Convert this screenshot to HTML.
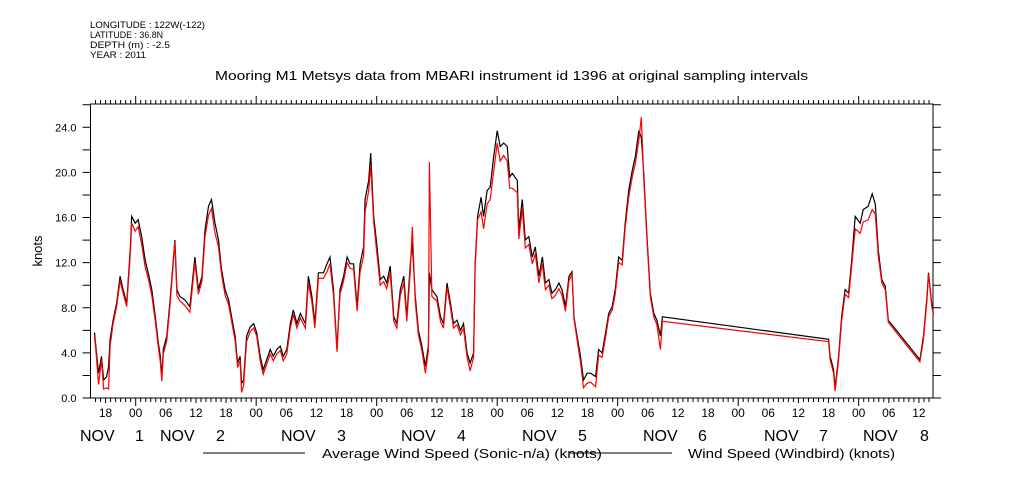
<!DOCTYPE html>
<html><head><meta charset="utf-8">
<style>
body{margin:0;background:#fff;}
svg{display:block;font-family:"Liberation Sans","DejaVu Sans",sans-serif;}
</style></head>
<body>
<svg id="chart" width="1009" height="504" viewBox="0 0 1009 504" xmlns="http://www.w3.org/2000/svg">
<g font-size="9.5" fill="#000">
<text x="90" y="28" textLength="115" lengthAdjust="spacingAndGlyphs">LONGITUDE : 122W(-122)</text>
<text x="90" y="38" textLength="73" lengthAdjust="spacingAndGlyphs">LATITUDE : 36.8N</text>
<text x="90" y="48" textLength="80" lengthAdjust="spacingAndGlyphs">DEPTH (m) : -2.5</text>
<text x="90" y="58" textLength="56" lengthAdjust="spacingAndGlyphs">YEAR : 2011</text>
</g>
<text x="215" y="80" font-size="13" textLength="593" lengthAdjust="spacingAndGlyphs">Mooring M1 Metsys data from MBARI instrument id 1396 at original sampling intervals</text>
<text x="42" y="251" font-size="13" text-anchor="middle" transform="rotate(-90 42 251)">knots</text>
<g id="axes"></g>
<g id="series"></g>
<g font-size="12.5">
<line x1="203" y1="453" x2="305" y2="453" stroke="#000"/>
<text x="322" y="458" textLength="280" lengthAdjust="spacingAndGlyphs">Average Wind Speed (Sonic-n/a) (knots)</text>
<line x1="570" y1="453" x2="672" y2="453" stroke="#000"/>
<text x="688" y="458" textLength="207" lengthAdjust="spacingAndGlyphs">Wind Speed (Windbird) (knots)</text>
</g>
</svg>
<script>
// hours relative to NOV 1 00:00
const hours = [-8.2,-7.8,-7.4,-6.8,-6.4,-5.8,-5.4,-5.1,-4.5,-3.8,-3.1,-2.5,-1.8,-1.1,-0.8,-0.1,0.5,1.2,1.9,2.5,3.2,3.9,4.5,4.9,5.2,5.5,6.2,6.8,7.8,8.2,8.8,9.8,10.8,11.8,12.5,13.2,13.8,14.5,15.1,15.8,16.5,17.1,17.8,18.5,19.1,19.8,20.3,20.8,21.1,21.5,22.1,22.8,23.5,24.1,24.8,25.4,26.1,26.8,27.4,28.1,28.8,29.4,30.1,30.8,31.4,32.1,32.8,33.8,34.4,35.1,35.7,36.4,37.4,38.1,38.7,39.4,40.1,40.7,41.4,42.1,42.7,43.4,44.1,44.7,45.4,45.7,46.4,46.8,47.4,48.0,48.7,49.4,50.0,50.7,51.4,52.0,52.7,53.4,54.0,54.7,55.1,55.7,56.3,57.0,57.7,58.3,58.5,59.0,60.0,60.7,61.3,62.0,62.7,63.3,64.0,64.7,65.3,66.0,66.6,67.3,67.6,68.1,68.8,69.3,70.0,70.6,71.3,72.0,72.6,73.3,74.0,74.5,75.0,76.0,76.3,77.0,77.6,78.3,79.0,79.6,80.3,81.0,81.6,82.3,82.9,83.6,84.3,84.9,85.6,86.3,86.9,87.3,87.9,88.6,89.2,89.9,90.6,91.6,92.2,92.9,93.6,94.2,94.9,95.5,96.2,96.9,97.5,98.2,98.9,99.5,100.2,100.7,101.2,101.8,102.5,103.2,103.8,104.5,104.9,138.0,138.3,139.0,139.3,140.0,140.6,141.3,142.0,142.6,143.3,144.3,144.9,145.9,146.7,147.3,147.9,148.6,149.3,149.9,156.2,156.9,157.6,157.9,158.6,158.9];
const avgSpeed = [5.8,4.0,2.2,3.7,1.6,1.9,2.8,5.2,6.9,8.4,10.8,9.6,8.4,13.1,16.1,15.5,15.8,14.3,12.2,11.1,9.6,7.2,4.9,3.7,1.9,4.3,5.5,8.4,14.0,9.6,9.0,8.7,8.1,12.5,9.6,10.8,14.9,17.0,17.6,15.5,14.0,11.4,9.6,8.7,7.2,5.5,3.1,3.7,1.3,1.6,5.5,6.3,6.6,5.8,3.7,2.5,3.4,4.3,3.7,4.3,4.6,3.7,4.3,6.6,7.8,6.6,7.5,6.6,10.8,9.0,6.6,11.1,11.1,11.9,12.5,9.6,4.3,9.6,10.8,12.5,11.9,11.9,8.1,11.9,13.4,17.6,19.3,21.7,16.1,13.7,10.5,10.8,10.2,11.7,7.2,6.6,9.6,10.8,7.2,11.9,13.7,9.0,6.0,4.6,2.8,4.6,11.1,9.6,9.0,7.2,6.6,10.2,8.4,6.6,6.9,6.0,6.6,4.0,3.1,4.0,11.9,16.1,17.8,16.1,18.4,18.7,21.4,23.7,22.3,22.6,22.3,19.6,19.9,19.3,14.9,17.6,14.0,14.3,12.5,13.4,10.8,12.5,10.2,10.5,9.3,9.6,10.2,9.6,8.1,10.8,11.2,7.2,5.5,3.7,1.6,2.2,2.2,1.9,4.3,4.0,5.8,7.5,8.1,9.6,12.5,12.2,15.5,18.4,20.2,21.4,23.7,23.1,19.9,14.6,9.3,7.5,6.9,5.5,7.2,5.2,3.7,2.5,0.9,3.7,7.2,9.6,9.3,12.2,16.1,15.5,16.7,17.0,18.1,17.2,13.1,10.5,9.9,6.9,3.4,5.5,9.0,11.1,8.1,7.5];
const windbird = [5.5,3.6,1.2,3.4,0.8,0.9,0.8,4.6,6.6,8.1,10.4,9.3,8.1,12.6,15.5,14.8,15.2,13.6,11.6,10.6,9.1,6.8,4.5,3.2,1.5,3.9,5.1,8.0,13.8,9.1,8.6,8.2,7.6,12.0,9.2,10.4,14.3,16.2,16.8,14.6,13.4,11.0,9.1,8.3,6.8,5.1,2.7,3.3,0.5,1.1,5.0,5.9,6.2,5.5,3.3,2.1,3.0,3.9,3.3,3.9,4.2,3.3,3.9,6.2,7.4,6.2,7.1,6.2,10.2,8.5,6.2,10.6,10.6,11.2,11.9,9.1,4.1,9.2,10.4,12.0,11.5,11.4,7.7,11.2,12.6,16.5,18.4,20.6,15.6,13.0,10.0,10.3,9.7,11.1,6.8,6.2,9.1,10.2,6.8,11.3,15.2,8.5,5.6,4.2,2.2,4.2,20.9,9.0,8.6,6.8,6.2,9.8,8.0,6.2,6.5,5.6,6.2,3.6,2.4,3.6,11.5,15.8,16.5,15.0,17.2,17.6,20.1,22.6,21.0,21.5,21.0,18.6,18.6,18.2,14.1,16.8,13.3,13.6,11.9,12.8,10.2,11.9,9.6,10.0,8.8,9.1,9.7,9.1,7.7,10.4,11.0,7.0,5.2,3.2,0.9,1.3,1.4,1.0,3.8,3.6,5.4,7.2,7.8,9.2,12.0,11.8,15.1,17.8,19.6,20.8,22.8,24.9,19.4,14.3,9.0,7.2,6.5,4.3,6.8,5.0,3.4,2.2,0.6,3.4,6.8,9.2,8.9,11.7,15.0,14.6,15.6,15.8,16.7,16.3,12.6,10.2,9.6,6.7,3.2,5.2,8.7,11.0,8.0,7.4];
const yTicks = [0,4,8,12,16,20,24];
const yTickLabels = ["0.0","4.0","8.0","12.0","16.0","20.0","24.0"];
const hourLabels = ["18","00","06","12"];
const dayLabels = [["NOV",80,"1",135],["NOV",160,"2",216],["NOV",281,"3",337],["NOV",401,"4",457],["NOV",522,"5",578],["NOV",643,"6",698],["NOV",764,"7",819],["NOV",863,"8",920]];

const L=90.5,R=933,T=104,B=398;
const H0=-9,H1=158.8,V0=0,V1=24;
function xs(h){return L+(h-H0)/(H1-H0)*(R-L);}
function ys(v){return B-(v-V0)/(V1-V0)*(B-127.3);}
const NS="http://www.w3.org/2000/svg";
function mk(tag,attrs,parent){const e=document.createElementNS(NS,tag);for(const k in attrs)e.setAttribute(k,attrs[k]);parent.appendChild(e);return e;}
const axes=document.getElementById('axes');
const frame=mk('rect',{x:L,y:T,width:R-L,height:B-T,fill:'none',stroke:'#000','stroke-width':1},axes);


let d='';
for(let v=0;v<=26;v+=2){const y=ys(v);if(y<T)continue;d+=`M${L-8} ${y}H${L}M${R} ${y}H${R+8}`;}
for(let h=-8;h<=158;h++){const x=xs(h);const major=((h%24)+24)%24===0;const six=((h%6)+6)%6===0;
 d+=`M${x} ${T}V${T-(major?8:4)}M${x} ${B}V${B+(major?8:(six?5:4))}`;}
const ticks=mk('path',{d:d,stroke:'#000','stroke-width':1,fill:'none'},axes);


yTicks.forEach((v,i)=>{const t=mk('text',{x:L-14,y:ys(v)+4,'font-size':11,'text-anchor':'end'},axes);t.textContent=yTickLabels[i];
 
 });
let k=0;for(let h=-6;h<=156;h+=6){const t=mk('text',{x:xs(h),y:417,'font-size':12,'text-anchor':'middle'},axes);t.textContent=hourLabels[k%4];k++;
 
 }
dayLabels.forEach(dl=>{const a=mk('text',{x:dl[1],y:441,'font-size':16},axes);a.textContent=dl[0];
 
 
 const b=mk('text',{x:dl[3],y:441,'font-size':16},axes);b.textContent=dl[2];
 
 });
const ser=document.getElementById('series');
function line(vals,color,name){let p='';vals.forEach((v,i)=>{p+=(i?'L':'M')+xs(hours[i]).toFixed(1)+' '+ys(v).toFixed(1);});
 const e=mk('path',{d:p,stroke:color,'stroke-width':1.2,fill:'none'},ser);
 
 }
line(avgSpeed,'#000','series-average-wind-speed');
line(windbird,'#f00','series-windbird-wind-speed');
</script>
</body></html>
